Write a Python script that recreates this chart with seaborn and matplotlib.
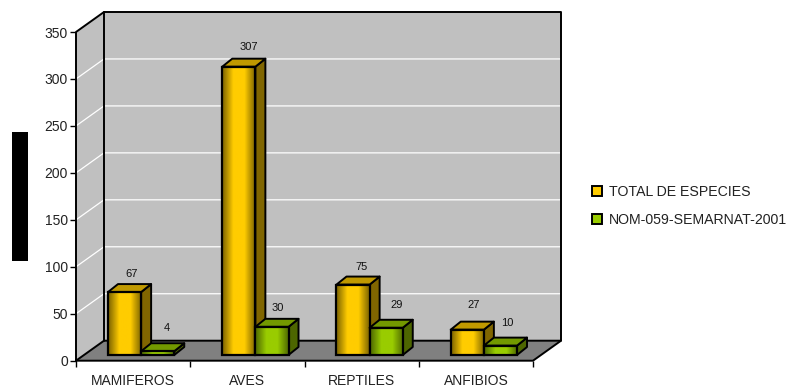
import numpy as np
import pandas as pd
import matplotlib
matplotlib.use("Agg")
import matplotlib.pyplot as plt
from matplotlib.colors import LinearSegmentedColormap
from matplotlib.patches import Polygon, Rectangle
from matplotlib.lines import Line2D
import seaborn as sns

categories = ["MAMIFEROS", "AVES", "REPTILES", "ANFIBIOS"]
series_names = ["TOTAL DE ESPECIES", "NOM-059-SEMARNAT-2001"]
total_especies = [67, 307, 75, 27]
nom_059 = [4, 30, 29, 10]
y_ticks = [0, 50, 100, 150, 200, 250, 300, 350]

W, H = 794, 387
LEFT, RIGHT, ZERO_Y, TOP_Y = 76, 533, 360.7, 32
DEPTH_X, DEPTH_Y = 28, 20          # wall depth in pixels
BAR_DX, BAR_DY = 10, 8             # bar depth in pixels
SHIFT_X, SHIFT_Y = 8, 5.7          # bars stand inside the floor
FACES = {
    series_names[0]: dict(mid="#ffcc00", edge="#7a6200", side="#806600", top="#c09900"),
    series_names[1]: dict(mid="#99cc00", edge="#4d6600", side="#4d6600", top="#739900"),
}
# label nudges in pixels from the centre of each bar's top (gold row, green row)
NUDGE = [[(7, 18), (10, 20), (8, 18), (6, 25)], [(9, 23), (5.5, 19), (10.5, 23), (7, 23)]]

sns.set_theme(style="white", rc={"font.family": ["Liberation Sans", "DejaVu Sans"]})
plt.rcParams["font.family"] = ["Liberation Sans", "DejaVu Sans"]

fig = plt.figure(figsize=(W / 100, H / 100), dpi=100, facecolor="white")
ax = fig.add_axes([LEFT / W, (H - ZERO_Y) / H, (RIGHT - LEFT) / W, (ZERO_Y - TOP_Y) / H])
ax.patch.set_visible(False)

df = pd.DataFrame({
    "grupo": categories * 2,
    "serie": [series_names[0]] * 4 + [series_names[1]] * 4,
    "valor": total_especies + nom_059,
})
sns.barplot(data=df, x="grupo", y="valor", hue="serie", hue_order=series_names,
            palette=[FACES[s]["mid"] for s in series_names], width=0.58, gap=0,
            saturation=1, legend=False, ax=ax, zorder=3)
ax.set_xlim(-0.5, 3.5)
ax.set_ylim(0, 350)
ax.set_xlabel("")
ax.set_ylabel("")

PX_X = (RIGHT - LEFT) / 4
PX_Y = (ZERO_Y - TOP_Y) / 350
dx, dy = DEPTH_X / PX_X, DEPTH_Y / PX_Y
x0, x1 = -0.5, 3.5


def poly(pts, fc, z=1):
    ax.add_patch(Polygon(pts, closed=True, facecolor=fc, edgecolor="none", zorder=z, clip_on=False))


def line(xs, ys, color="black", lw=1.5, z=2):
    ax.add_line(Line2D(xs, ys, color=color, lw=lw, zorder=z, clip_on=False, solid_capstyle="round"))


# walls and floor
poly([(x0, 0), (x0 + dx, dy), (x0 + dx, 350 + dy), (x0, 350)], "#c0c0c0")
poly([(x0 + dx, dy), (x1 + dx, dy), (x1 + dx, 350 + dy), (x0 + dx, 350 + dy)], "#c0c0c0")
poly([(x0, 0), (x0 + dx, dy), (x1 + dx, dy), (x1, 0)], "#808080")

for v in y_ticks[1:-1]:
    line([x0, x0 + dx, x1 + dx], [v, v + dy, v + dy], color="white", lw=0.9, z=1.5)

line([x0, x0, x0 + dx, x1 + dx, x1 + dx, x1, x0], [0, 350, 350 + dy, 350 + dy, dy, 0, 0], lw=1.4)
line([x0, x0 + dx, x1 + dx], [0, dy, dy], lw=1.4)
line([x0 + dx, x0 + dx], [dy, 350 + dy], lw=1.4)

# shaded fronts, side and top faces for every bar
bx, by = BAR_DX / PX_X, BAR_DY / PX_Y
for s_idx, (name, cont) in enumerate(zip(series_names, ax.containers)):
    face = FACES[name]
    cmap = LinearSegmentedColormap.from_list("face", [face["edge"], face["mid"], face["mid"], face["edge"]])
    z = 3 + s_idx
    for c_idx, bar in enumerate(cont):
        xl = bar.get_x() + SHIFT_X / PX_X
        base = SHIFT_Y / PX_Y
        w, h = bar.get_width(), bar.get_height()
        bar.set_x(xl)
        bar.set_y(base)
        bar.set_edgecolor("black")
        bar.set_linewidth(1.6)
        bar.set_zorder(z + 0.2)
        bar.set_facecolor("none")
        bar.set_clip_on(False)
        top = base + h
        ax.imshow(np.linspace(0, 1, 64).reshape(1, -1), cmap=cmap, aspect="auto",
                  extent=[xl, xl + w, base, top], zorder=z + 0.1, clip_on=False)
        side = [(xl + w, base), (xl + w + bx, base + by), (xl + w + bx, top + by), (xl + w, top)]
        cap = [(xl, top), (xl + bx, top + by), (xl + w + bx, top + by), (xl + w, top)]
        ax.add_patch(Polygon(side, facecolor=face["side"], edgecolor="black", lw=1.4, zorder=z, clip_on=False, joinstyle="round"))
        ax.add_patch(Polygon(cap, facecolor=face["top"], edgecolor="black", lw=1.4, zorder=z, clip_on=False, joinstyle="round"))
        nx, ny = NUDGE[s_idx][c_idx]
        ax.annotate(f"{int(h)}", xy=(xl + w / 2, top), xytext=(nx * 0.72, ny * 0.72),
                    textcoords="offset points", ha="center", va="center",
                    fontsize=8, color="#111111", zorder=8, annotation_clip=False)

ax.set_xlim(x0, x1)
ax.set_ylim(0, 350)

for sp in ax.spines.values():
    sp.set_visible(False)
ax.set_yticks(y_ticks)
ax.set_xticks(np.arange(-0.5, 4.0, 1.0))
ax.set_xticklabels([])
ax.set_xticks(range(4), categories, minor=True)
ax.tick_params(axis="y", which="major", left=True, length=4.4, width=1.0, color="black",
               labelsize=10, labelcolor="#222222", pad=1.5)
ax.tick_params(axis="x", which="major", bottom=True, length=4.4, width=1.0, color="black")
ax.tick_params(axis="x", which="minor", bottom=False, length=0, labelsize=10,
               labelcolor="#222222", pad=9.6)

# legend
handles = [Rectangle((0, 0), 1, 1, facecolor=FACES[s]["mid"], edgecolor="black", lw=1.4) for s in series_names]
fig.legend(handles, series_names, loc="center left", bbox_to_anchor=(592 / W, 1 - 206 / H),
           frameon=False, fontsize=10.2, handlelength=0.68, handleheight=0.68, handletextpad=0.5,
           labelspacing=0.95, labelcolor="#222222", borderpad=0, borderaxespad=0)

# black block at the left margin
fig.add_artist(Rectangle((12 / W, 1 - 261 / H), 16 / W, 129 / H, transform=fig.transFigure,
                         facecolor="black", edgecolor="none"))

fig.savefig("out.png", dpi=100)
